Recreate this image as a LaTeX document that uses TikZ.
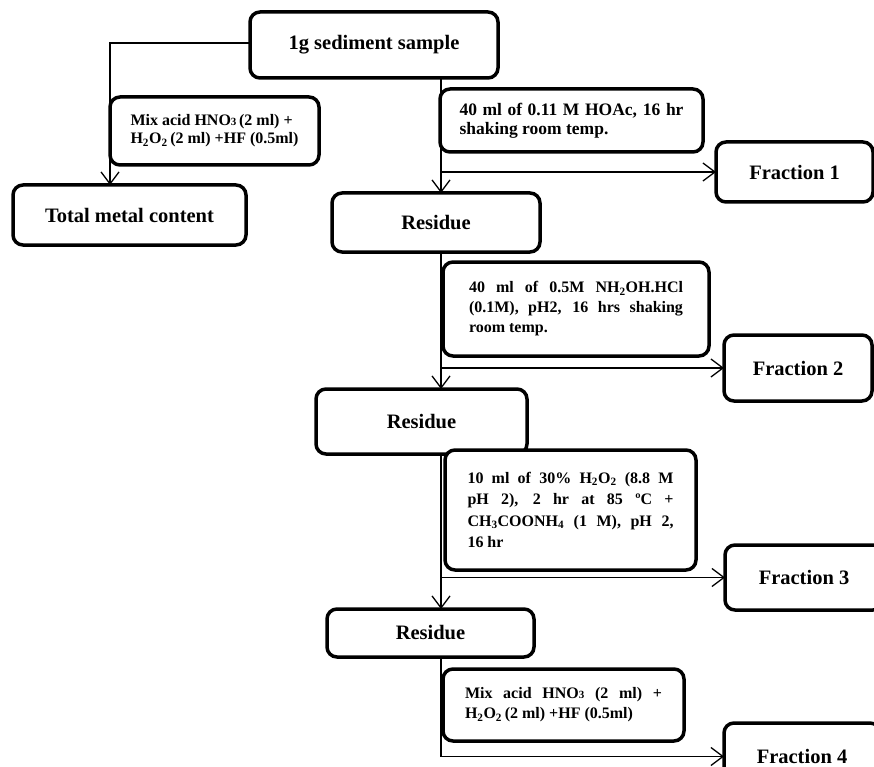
\documentclass[tikz,border=0pt]{standalone}
\usepackage{fontspec}
\setmainfont{Liberation Serif}
\usetikzlibrary{arrows.meta}
\tikzstyle{stepbox} = [draw,rounded corners=10pt,line width=3.5pt,fill=white,font=\bfseries\fontsize{20.5}{24}\selectfont,inner sep=0pt,outer sep=0pt]
\tikzstyle{condbox} = [stepbox,font=\bfseries\fontsize{16}{20}\selectfont,align=justify]
\tikzstyle{flow} = [line width=1.3pt,-{Straight Barb[length=12pt,width=18pt]}]
\newcommand{\smallthree}{{\fontsize{11}{11}\selectfont 3}}

\begin{document}
\begin{tikzpicture}[x=1pt,y=-1pt]
		\useasboundingbox (0,0) rectangle (874,767);
		\clip (0,0) rectangle (874,767);

		\node[stepbox,minimum width=248pt,minimum height=66pt] (sample) at (374,45) {1g sediment sample};
		\node[stepbox,minimum width=233pt,minimum height=60pt] (total) at (129.5,215) {Total metal content};
		\node[condbox,align=left,font=\bfseries\fontsize{16}{18}\selectfont,minimum width=209pt,minimum height=68pt] (mixl) at (214.5,131) {Mix acid HNO\smallthree\,(2 ml) +\\H\textsubscript{2}O\textsubscript{2}\,(2 ml) +HF (0.5ml)};

		\node[condbox,font=\bfseries\fontsize{17.5}{19}\selectfont,text width=224pt,minimum width=263pt,minimum height=63pt] (cond1) at (571.5,120.5) {40 ml of 0.11 M HOAc, 16 hr\linebreak shaking room temp.};
		\node[stepbox,minimum width=157pt,minimum height=60pt] (frac1) at (794.5,172) {Fraction 1};
		\node[stepbox,minimum width=208pt,minimum height=59pt] (res1) at (436,222.5) {Residue};

		\node[condbox,text width=214pt,minimum width=266pt,minimum height=94pt] (cond2) at (576,309) {40 ml of 0.5M NH\textsubscript{2}OH.HCl\linebreak (0.1M), pH2, 16 hrs shaking\linebreak room temp.};
		\node[stepbox,minimum width=148pt,minimum height=66pt] (frac2) at (798,368) {Fraction 2};
		\node[stepbox,minimum width=211pt,minimum height=65pt] (res2) at (421.5,421.5) {Residue};

		\node[condbox,font=\bfseries\fontsize{16}{21.5}\selectfont,text width=206pt,minimum width=251pt,minimum height=120pt] (cond3) at (570.5,510) {10 ml of 30\% H\textsubscript{2}O\textsubscript{2} (8.8 M\linebreak pH 2), 2 hr at 85 ºC +\linebreak CH\textsubscript{3}COONH\textsubscript{4} (1 M), pH 2,\linebreak 16 hr};
		\node[stepbox,minimum width=158pt,minimum height=65pt] (frac3) at (804,577.5) {Fraction 3};
		\node[stepbox,minimum width=207pt,minimum height=48pt] (res3) at (430.5,633) {Residue};

		\node[condbox,text width=197pt,minimum width=241pt,minimum height=72pt] (cond4) at (563.5,705) {Mix acid HNO\smallthree{} (2 ml) +\linebreak H\textsubscript{2}O\textsubscript{2}\,(2 ml) +HF (0.5ml)};
		\node[stepbox,minimum width=156pt,minimum height=67pt] (frac4) at (802,756.5) {Fraction 4};

		\coordinate (lbend) at (110,43);
		\coordinate (sp) at (441,0);

		\draw[flow] (sample.west |- lbend) -- (lbend) -- (lbend |- total.north);
		\draw[flow] (sample.south -| sp) -- (res1.north -| sp);
		\draw[flow] (sp |- frac1.west) -- (frac1.west);
		\draw[flow] (res1.south -| sp) -- (res2.north -| sp);
		\draw[flow] (sp |- frac2.west) -- (frac2.west);
		\draw[flow] (res2.south -| sp) -- (res3.north -| sp);
		\draw[flow] (sp |- frac3.west) -- (frac3.west);
		\draw[flow] (res3.south -| sp) |- (frac4.west);
	\end{tikzpicture}
\end{document}
